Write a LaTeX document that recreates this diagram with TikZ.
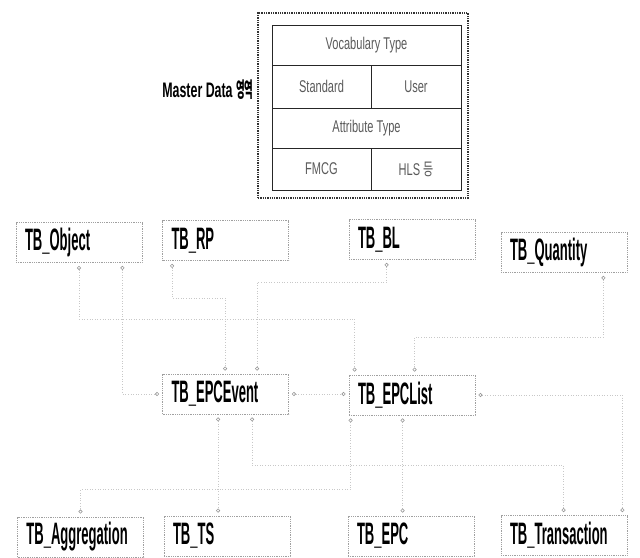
\documentclass[tikz,border=0pt]{standalone}
\usepackage{fontspec}
\setmainfont{Liberation Sans}
\newfontfamily\krfont{Noto Sans CJK KR}
\usepackage{graphicx}
\usetikzlibrary{calc, arrows.meta}
\definecolor{boxgray}{RGB}{160,160,160}
\definecolor{linkgray}{RGB}{200,200,200}
\definecolor{keygray}{RGB}{150,150,150}
\definecolor{celltext}{RGB}{90,90,90}
\newcommand{\slim}[2][0.42]{\scalebox{#1}[1]{#2}}
\newcommand{\tbfont}{\fontsize{31}{31}\selectfont\bfseries}
\newcommand{\cellfont}{\fontsize{17}{17}\selectfont}

\begin{document}
\begin{tikzpicture}[x=1pt, y=-1pt,
    tbl/.style={draw=boxgray, densely dotted, line width=0.8pt, minimum height=40pt,
        inner xsep=9pt, inner ysep=0pt, text width=108pt, align=left, font=\tbfont},
    cell/.style={draw=black!85, line width=1pt, inner sep=0pt, font=\cellfont, text=celltext},
    link/.style={draw=linkgray, dotted, line width=0.6pt,
        {Circle[open,length=4pt,width=4pt,color=keygray]}-{Circle[open,length=4pt,width=4pt,color=keygray]},
        shorten <=3pt, shorten >=3pt}
]
\useasboundingbox (0,0) rectangle (640,557);

% Master Data area
\node[draw=black!80, densely dotted, line width=1.3pt, minimum width=210pt, minimum height=185pt] (masterarea) at (363,105.5) {};
\node[anchor=base east, font=\fontsize{21}{21}\selectfont\bfseries] (masterlabel) at (257,97)
    {\slim[0.59]{Master Data }\slim[0.45]{\krfont 영역}};
\node[cell, minimum width=189pt, minimum height=40pt] (vocab) at (366.5,45) {\slim[0.65]{Vocabulary Type}};
\node[cell, minimum width=99pt, minimum height=43pt] (standard) at (321.5,86.5) {\slim[0.65]{Standard}};
\node[cell, minimum width=90pt, minimum height=43pt] (user) at (416,86.5) {\slim[0.65]{User}};
\node[cell, minimum width=189pt, minimum height=40pt] (attr) at (366.5,128) {\slim[0.65]{Attribute Type}};
\node[cell, minimum width=99pt, minimum height=42pt] (fmcg) at (321.5,169) {\slim[0.65]{FMCG}};
\node[cell, minimum width=90pt, minimum height=42pt] (hls) at (416,169) {\slim[0.65]{HLS {\krfont 등}}};

% tables
\node[tbl] (object) at (79,242.5) {\slim{TB\_Object}};
\node[tbl] (rp) at (225.5,240.5) {\slim{TB\_RP}};
\node[tbl] (bl) at (412,239.5) {\slim{TB\_BL}};
\node[tbl] (quantity) at (564,252.5) {\slim{TB\_Quantity}};
\node[tbl] (epcevent) at (225.5,394) {\slim{TB\_EPCEvent}};
\node[tbl] (epclist) at (412,395) {\slim{TB\_EPCList}};
\node[tbl] (aggregation) at (80.5,537) {\slim{TB\_Aggregation}};
\node[tbl] (ts) at (227,536) {\slim{TB\_TS}};
\node[tbl] (epc) at (411,536) {\slim{TB\_EPC}};
\node[tbl] (transaction) at (564,535.5) {\slim{TB\_Transaction}};

% relations
\draw[link] ($(rp.south west)+(10,0)$) -- ++(0,37) -| ($(epcevent.north west)+(63,0)$);
\draw[link] ($(bl.south west)+(38,0)$) -- ++(0,22) -| ($(epcevent.north west)+(95,0)$);
\draw[link] (object.south) -- ++(0,56) -| ($(epclist.north west)+(6,0)$);
\draw[link] ($(quantity.south east)+(-24,0)$) -- ++(0,64) -| ($(epclist.north west)+(66,0)$);
\draw[link] ($(object.south east)+(-20,0)$) |- (epcevent.west);
\draw[link] (epcevent.east) -- (epcevent.east -| epclist.west);
\draw[link] ($(epcevent.south west)+(56,0)$) coordinate (ev1) -- (ev1 |- ts.north);
\draw[link] ($(epclist.south west)+(54,0)$) coordinate (ls1) -- (ls1 |- epc.north);
\draw[link] ($(epcevent.south west)+(90,0)$) -- ++(0,51) -| ($(transaction.north west)+(63,0)$);
\draw[link] ($(epclist.south west)+(2,0)$) -- ++(0,74) -| (aggregation.north);
\draw[link] (epclist.east) -| ($(transaction.north east)+(-5,0)$);
\end{tikzpicture}
\end{document}
